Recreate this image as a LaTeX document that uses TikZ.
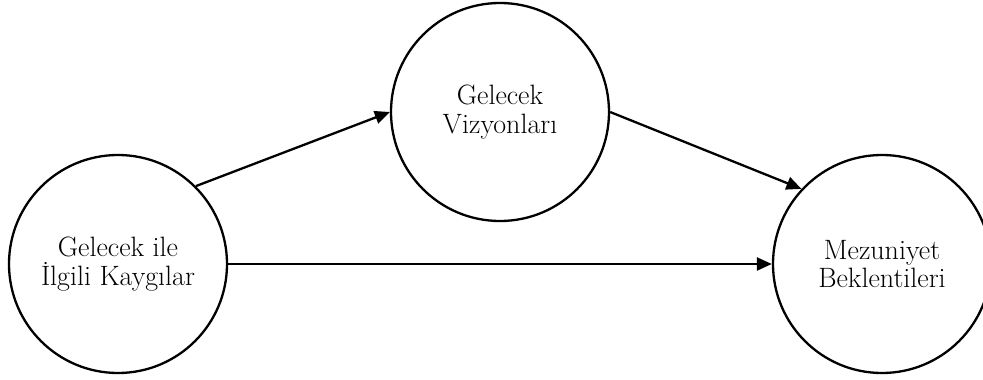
\documentclass[tikz,border=0pt]{standalone}
\usepackage{fontspec}
\usetikzlibrary{arrows.meta}
\tikzset{
  circ/.style={circle, draw=black, line width=2.3pt, minimum size=218pt, inner sep=0pt,
    align=center, font=\fontsize{28}{28.5}\selectfont},
  arr/.style={line width=2.3pt, -{Triangle[length=15pt,width=13pt]}}
}
\begin{document}
\begin{tikzpicture}[x=1pt,y=-1pt]
\fill[white] (0,0) rectangle (983,380);
\useasboundingbox (0,0) rectangle (983,380);
\clip (0,0) rectangle (983,380);
\node[circ] (L) at (118,264) {Gelecek ile\\İlgili Kaygılar};
\node[circ] (T) at (500,112) {Gelecek\\Vizyonları};
\node[circ] (R) at (882,264) {Mezuniyet\\Beklentileri};
\draw[arr] (L.45) -- (T.west);
\draw[arr] (T.east) -- (R.137);
\draw[arr] (L.east) -- (R.west);
\end{tikzpicture}
\end{document}
